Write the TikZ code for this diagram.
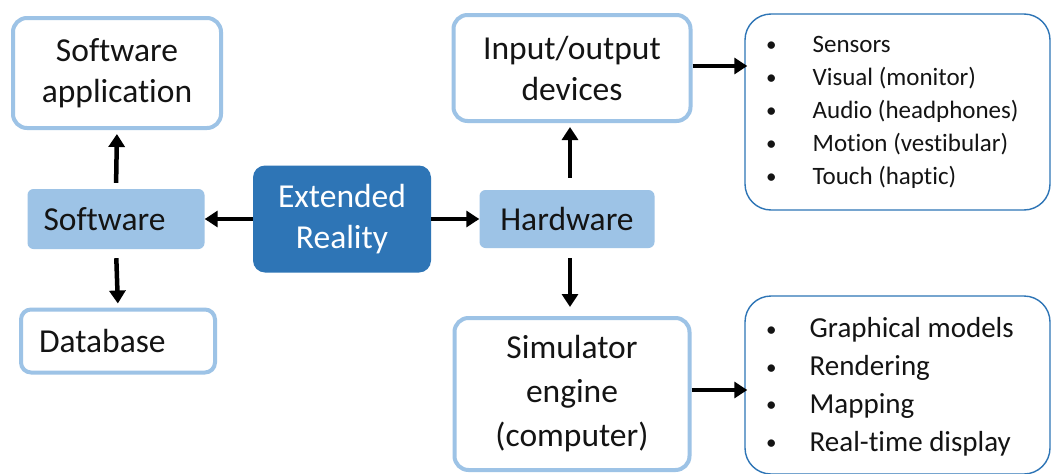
\documentclass[tikz,border=0pt]{standalone}
\usepackage{fontspec}
\setmainfont{Carlito}[Ligatures={NoCommon}]
\usetikzlibrary{arrows.meta}
\definecolor{lblue}{HTML}{9DC3E6}
\definecolor{dblue}{HTML}{2E75B6}
\definecolor{txt}{HTML}{141414}
\newcommand{\blt}{\raisebox{1.5pt}{\fontsize{21}{21}\selectfont\textbullet}}
\begin{document}
\begin{tikzpicture}[x=1pt,y=-1pt,
  main/.style={font=\fontsize{33.5}{41}\selectfont, text=txt, align=center, inner sep=0pt},
  outbox/.style={main, draw=lblue, line width=4pt, rounded corners=14pt, fill=white},
  filbox/.style={main, fill=lblue, rounded corners=6pt},
  listbox/.style={draw=dblue, line width=1.4pt, rounded corners=26pt, fill=white, inner sep=0pt},
  arr/.style={line width=4.5pt, -{Triangle[length=13pt,width=16pt]}},
]
\useasboundingbox (0,0) rectangle (1053,474);
\fill[white] (0,0) rectangle (1053,474);

\node[outbox, minimum width=208pt, minimum height=110pt] (swapp) at (117,73) {Software\\application};
\node[filbox, minimum width=177pt, minimum height=60pt, text width=145pt, align=left] (sw) at (116,219) {Software};
\node[outbox, rounded corners=10pt, minimum width=194pt, minimum height=63pt, text width=158pt, align=left] (db) at (118,341) {Database};
\node[main, fill=dblue, text=white, rounded corners=12pt, minimum width=178pt, minimum height=107pt] (er) at (342,219) {Extended\\Reality};
\node[filbox, minimum width=175pt, minimum height=58pt] (hw) at (567,219) {Hardware};
\node[outbox, minimum width=237pt, minimum height=106pt] (io) at (572,68) {Input/output\\devices};
\node[outbox, font=\fontsize{33.5}{44}\selectfont, minimum width=235pt, minimum height=152pt] (sim) at (572,394) {Simulator\\engine\\(computer)};

\node[listbox, minimum width=305pt, minimum height=196pt] (l1) at (897.5,112) {};
\node[listbox, minimum width=305pt, minimum height=178pt] (l2) at (897.5,385) {};

\node[anchor=west, inner sep=0pt, text=txt, font=\fontsize{25}{33}\selectfont] (t1) at (766,112)
 {\begin{tabular}{@{}l@{\hspace{36pt}}l@{}}
  \blt & Sensors\\
  \blt & Visual (monitor)\\
  \blt & Audio (headphones)\\
  \blt & Motion (vestibular)\\
  \blt & Touch (haptic)
 \end{tabular}};
\node[anchor=west, inner sep=0pt, text=txt, font=\fontsize{29}{37.7}\selectfont] (t2) at (766,387)
 {\begin{tabular}{@{}l@{\hspace{33pt}}l@{}}
  \blt & Graphical models\\
  \blt & Rendering\\
  \blt & Mapping\\
  \blt & Real-time display
 \end{tabular}};

\draw[arr] (er.west) -- (sw.east);
\draw[arr] (er.east) -- (hw.west);
\draw[arr, shorten <=6pt, shorten >=4pt] (sw.north) -- (swapp.south);
\draw[arr, shorten <=9pt, shorten >=4pt] (sw.south) -- (db.north);
\draw[arr, shorten <=12pt, shorten >=4pt] ([xshift=3pt]hw.north) -- ([xshift=-2pt]io.south);
\draw[arr, shorten <=10pt, shorten >=9pt] ([xshift=3pt]hw.south) -- ([xshift=-2pt]sim.north);
\draw[arr, shorten >=-3pt] ([yshift=2pt]io.east) -- ([yshift=2pt]io.east -| l1.west);
\draw[arr, shorten >=-3pt] ([yshift=4pt]sim.east) -- ([yshift=4pt]sim.east -| l2.west);
\end{tikzpicture}
\end{document}
